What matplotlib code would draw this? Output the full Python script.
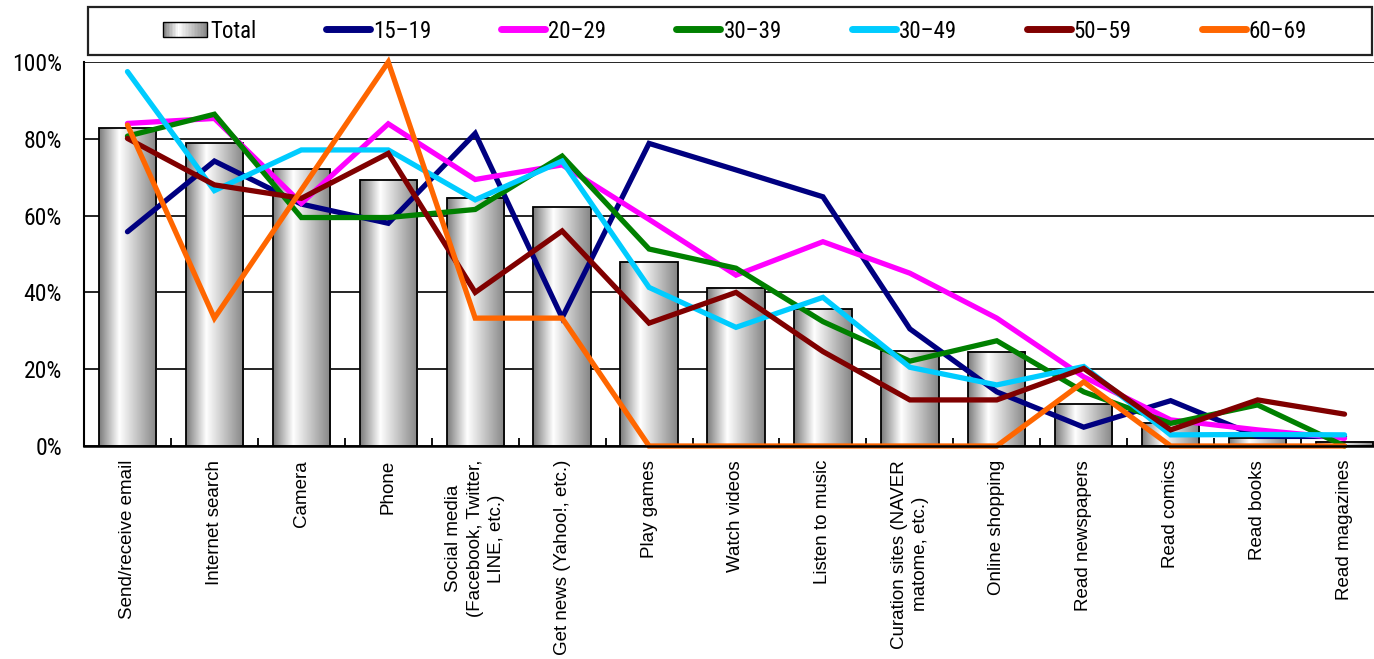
import numpy as np
import matplotlib
matplotlib.use("Agg")
import matplotlib.pyplot as plt
from matplotlib import font_manager as fm
from matplotlib.font_manager import FontProperties
from matplotlib.textpath import TextPath
from matplotlib.colors import LinearSegmentedColormap
from matplotlib.patches import Rectangle
from matplotlib.lines import Line2D
from matplotlib.legend_handler import HandlerBase
from matplotlib.ticker import PercentFormatter, FixedLocator

# ---- data -------------------------------------------------------------
categories = [
    "Send/receive email", "Internet search", "Camera", "Phone",
    "Social media\n(Facebook, Twitter,\nLINE, etc.)", "Get news (Yahoo!, etc.)",
    "Play games", "Watch videos", "Listen to music",
    "Curation sites (NAVER\nmatome, etc.)", "Online shopping",
    "Read newspapers", "Read comics", "Read books", "Read magazines",
]
total     = [82.7, 78.8, 72.1, 69.3, 64.7, 62.2, 47.8, 41.2, 35.6, 24.7, 24.6, 10.9, 5.9, 2.0, 1.1]
age_15_19 = [55.8, 74.2, 63.0, 58.0, 81.4, 33.4, 78.8, 71.9, 64.9, 30.5, 14.1, 4.9, 11.8, 2.5, 2.5]
age_20_29 = [84.0, 85.3, 63.2, 83.9, 69.4, 73.2, 59.0, 44.5, 53.2, 45.0, 33.3, 18.0, 6.8, 4.2, 2.0]
age_30_39 = [80.7, 86.4, 59.5, 59.5, 61.6, 75.5, 51.3, 46.3, 32.4, 22.1, 27.4, 14.1, 5.9, 10.7, 0.0]
age_30_49 = [97.5, 66.5, 77.1, 77.1, 64.1, 74.2, 41.3, 30.9, 38.7, 20.5, 15.9, 20.7, 2.9, 3.0, 2.9]
age_50_59 = [80.1, 68.0, 64.5, 76.2, 40.0, 56.0, 32.0, 40.0, 24.6, 12.0, 12.0, 20.2, 4.2, 12.0, 8.3]
age_60_69 = [83.6, 33.3, 66.7, 100.0, 33.3, 33.3, 0.0, 0.0, 0.0, 0.0, 0.0, 16.7, 0.0, 0.0, 0.0]

series_labels = ["15\u201319", "20\u201329", "30\u201339", "30\u201349", "50\u201359", "60\u201369"]
series_values = [age_15_19, age_20_29, age_30_39, age_30_49, age_50_59, age_60_69]
series_colors = ["#000080", "#FF00FF", "#008000", "#00CCFF", "#800000", "#FF6600"]

REGULAR = ["Liberation Sans", "DejaVu Sans"]


def narrow_font_file():
    """Return the file of an installed condensed/narrow sans face, if any."""
    def is_narrow(f):
        st = f.stretch
        if isinstance(st, str) and "condensed" in st:
            return True
        if isinstance(st, (int, float)) and st < 500:
            return True
        return "Narrow" in f.name or "Condensed" in f.name
    cands = [f for f in fm.fontManager.ttflist
             if is_narrow(f) and f.style == "normal"
             and f.weight in (400, "normal", "regular", "book")
             and "Mono" not in f.name and "Serif" not in f.name]
    order = ["Liberation Sans Narrow", "Arial Narrow", "Roboto Condensed",
             "Open Sans Condensed", "Noto Sans", "DejaVu Sans"]
    cands.sort(key=lambda f: order.index(f.name) if f.name in order else 99)
    return cands[0].fname if cands else None


_nf = narrow_font_file()
narrow_base = FontProperties(fname=_nf) if _nf else FontProperties(family="Liberation Sans")


def fit_size(text, target_px, max_pt):
    w = TextPath((0, 0), text, size=10, prop=narrow_base).get_extents().width
    return min(max_pt, 10 * target_px * 0.72 / w)


legend_pt = fit_size("15\u201319", 55, 17)
ytick_pt = fit_size("100%", 47, 17)
legend_font = narrow_base.copy()
legend_font.set_size(legend_pt)
ytick_font = narrow_base.copy()
ytick_font.set_size(ytick_pt)

bar_cmap = LinearSegmentedColormap.from_list(
    "bar_grad", [(0.0, "#7a7a7a"), (0.35, "#ffffff"), (1.0, "#858585")])

W, H = 1374, 659
fig = plt.figure(figsize=(W / 100, H / 100), dpi=100)
fig.patch.set_facecolor("white")
ax = fig.add_axes([84 / W, 1 - 446 / H, (1388 - 84) / W, (446 - 62) / H])

x = np.arange(len(categories))
bar_w = 0.66

# bars: gradient fill drawn inside each bar rectangle, outline on top
bars = ax.bar(x, total, width=bar_w, facecolor="none", edgecolor="black",
              linewidth=1.3, zorder=3)
grad = np.linspace(0, 1, 256).reshape(1, -1)
for b in bars:
    ax.imshow(grad, cmap=bar_cmap, aspect="auto", interpolation="bilinear",
              extent=[b.get_x(), b.get_x() + b.get_width(), 0, b.get_height()],
              zorder=2)

# age-group lines
for vals, lab, col in zip(series_values, series_labels, series_colors):
    ax.plot(x, vals, color=col, lw=3.8, solid_joinstyle="miter",
            solid_capstyle="round", zorder=4, clip_on=False, label=lab)

ax.set_xlim(-0.5, len(categories) - 0.5)
ax.set_ylim(0, 100)

# axes styling
ax.set_yticks(np.arange(0, 101, 20))
ax.yaxis.set_major_formatter(PercentFormatter(decimals=0))
ax.grid(axis="y", color="black", lw=1.2, zorder=1)
ax.set_axisbelow(True)
for s in ["top", "right"]:
    ax.spines[s].set_visible(False)
ax.spines["left"].set_linewidth(1.5)
ax.spines["bottom"].set_linewidth(1.8)
ax.spines["bottom"].set_zorder(5)

ax.set_xticks(x)
ax.set_xticklabels(categories, rotation=90, fontsize=13.5, family=REGULAR,
                   ha="center", va="top", multialignment="center",
                   linespacing=1.35)
ax.tick_params(axis="x", which="major", length=0, pad=10)
ax.xaxis.set_minor_locator(FixedLocator(np.arange(0.5, len(categories) - 0.5, 1)))
ax.tick_params(axis="x", which="minor", direction="in", length=6, width=1.3)
ax.tick_params(axis="y", which="major", direction="in", length=0, pad=16)
for t in ax.get_yticklabels():
    t.set_fontproperties(ytick_font)


# legend with a gradient swatch for the bar series
class GradientHandler(HandlerBase):
    def create_artists(self, legend, orig_handle, xdescent, ydescent,
                       width, height, fontsize, trans):
        arts = []
        n = 30
        x0, y0 = -xdescent, -ydescent + height * 0.05
        hh = height * 0.9
        for i in range(n):
            arts.append(Rectangle((x0 + i * width / n, y0), width / n + 0.3, hh,
                                  facecolor=bar_cmap((i + 0.5) / n),
                                  edgecolor="none", transform=trans))
        arts.append(Rectangle((x0, y0), width, hh, facecolor="none",
                              edgecolor="black", lw=1.0, transform=trans))
        return arts


px_to_em = 0.72 / legend_pt
bar_proxy = Rectangle((0, 0), 1, 1)
handles = [bar_proxy] + [Line2D([0], [0], color=c, lw=5, solid_capstyle="round")
                         for c in series_colors]
labels = ["Total"] + series_labels
fig.legend(handles, labels, handler_map={bar_proxy: GradientHandler()},
           loc="center", bbox_to_anchor=(735 / W, 1 - 31 / H), ncol=7,
           frameon=False, handlelength=44 * px_to_em,
           handletextpad=3 * px_to_em, columnspacing=70 * px_to_em,
           prop=legend_font)
fig.add_artist(Rectangle((88 / W, 1 - 55 / H), (1372 - 88) / W, 48 / H,
                         transform=fig.transFigure, fill=False,
                         edgecolor="#222222", lw=1.6))

fig.savefig("out.png", dpi=100)
